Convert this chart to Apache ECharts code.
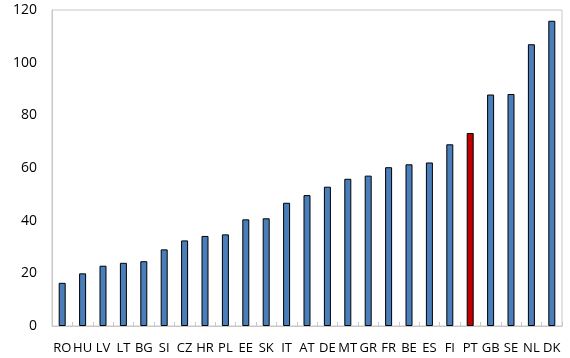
<!DOCTYPE html>
<html><head><meta charset="utf-8">
<script src="https://cdn.jsdelivr.net/npm/echarts@6/dist/echarts.min.js"></script>
<style>html,body{margin:0;padding:0;background:#fff}#c{width:570px;height:358px}</style>
</head><body><div id="c"></div>
<script>
const categories = ["RO","HU","LV","LT","BG","SI","CZ","HR","PL","EE","SK","IT","AT","DE","MT","GR","FR","BE","ES","FI","PT","GB","SE","NL","DK"];
const values = [16.4,20.0,22.9,24.0,24.6,29.1,32.5,34.2,34.8,40.5,40.9,46.8,49.7,52.9,55.9,57.1,60.3,61.4,62.1,69.0,73.3,87.9,88.1,107.0,115.9];
const highlight = "PT";
const yTicks = [0,20,40,60,80,100,120];

const chart = echarts.init(document.getElementById('c'));
chart.setOption({
  animation: false,
  grid: {left: 52, right: 8, top: 10, bottom: 32, show: true, borderColor: '#c8c8c8', borderWidth: 1},
  xAxis: {
    type: 'category', data: categories,
    axisLine: {lineStyle: {color: '#c8c8c8'}},
    axisTick: {show: true, inside: true, length: 4, alignWithLabel: false, lineStyle: {color: '#c8c8c8'}},
    axisLabel: {interval: 0, color: '#000', fontFamily: 'Open Sans', fontSize: 13, margin: 16}
  },
  yAxis: {
    type: 'value', min: yTicks[0], max: yTicks[yTicks.length-1], interval: 20,
    splitLine: {show: false},
    axisLine: {show: true, lineStyle: {color: '#c8c8c8'}},
    axisTick: {show: false},
    axisLabel: {color: '#000', fontFamily: 'Open Sans', fontSize: 14, margin: 15}
  },
  series: [{
    type: 'bar', barWidth: 7,
    data: values.map((v, i) => ({value: v, itemStyle: {color: categories[i] === highlight ? '#c00000' : '#4a7ebb'}})),
    itemStyle: {borderColor: '#000', borderWidth: 1}
  }]
});
</script></body></html>
